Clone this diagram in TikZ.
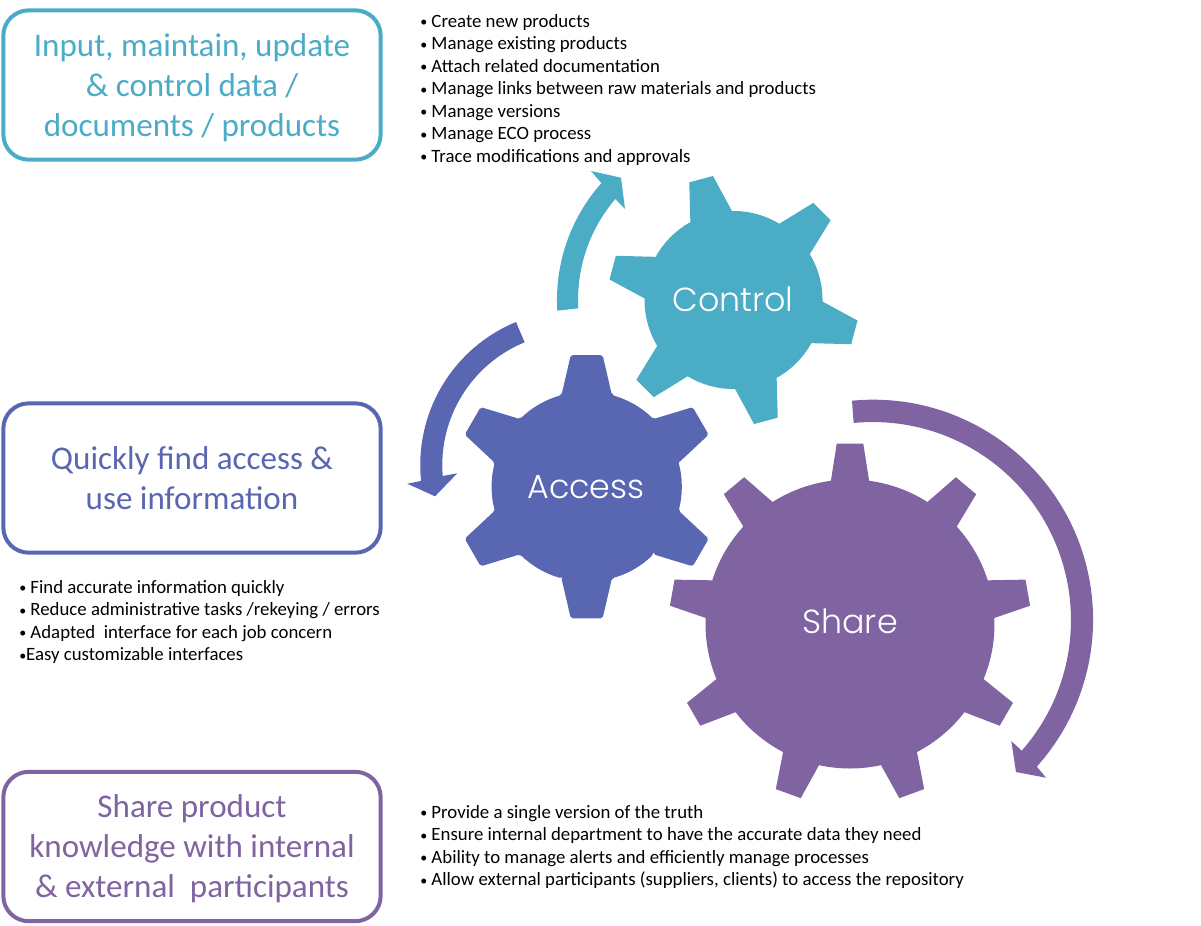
\documentclass[tikz,border=0pt]{standalone}
\usepackage{fontspec}
\usepackage{xcolor}
\setmainfont{Carlito}
\newfontfamily\gearfont{Poppins Light}
\definecolor{ctrlTeal}{HTML}{4BACC6}
\definecolor{accIndigo}{HTML}{5966B2}
\definecolor{shrPurple}{HTML}{8064A2}
\newcommand{\Dot}{\raisebox{0.6pt}{\fontsize{10.5}{10}\selectfont •}}

\begin{document}
\begin{tikzpicture}[x=0.75pt,y=0.75pt,
  goalBox/.style={draw,line width=3pt,rounded corners=19pt,fill=white,align=center,
    minimum width=283pt,minimum height=112pt,inner sep=0pt,text depth=0pt,
    font=\fontsize{24.8}{30}\selectfont},
  taskList/.style={anchor=north west,align=left,inner sep=0pt,text=black,
    font=\fontsize{14.1}{16.9}\selectfont},
  gearLabel/.style={text=white,inner sep=0pt,font=\gearfont\fontsize{25}{28}\selectfont}]

\useasboundingbox (0,-925) rectangle (1201,0);

% ============================================================
% Hubs of the three gears
% ============================================================

\coordinate (controlHub) at (733.5,-300);
\coordinate (accessHub) at (586.7,-486.7);
\coordinate (shareHub) at (850,-624);

% ============================================================
% Control gear
% ============================================================

\def\Body{89}      % body radius
\def\Tip{125.7}    % tooth radius
\def\AngBase{14}   % half tooth at the body
\def\AngTip{5.6}   % half tooth at the tip
\def\Pitch{60}

\begin{scope}[shift={(controlHub)}]
  \fill[ctrlTeal] ({105-\AngBase}:\Body)
    \foreach \a [evaluate=\a as \s using \a+\AngBase,
                 evaluate=\a as \e using \a+\Pitch-\AngBase] in {105,165,...,405} {
      -- ({\a-\AngBase}:\Body) -- ({\a-\AngTip}:\Tip) -- ({\a+\AngTip}:\Tip)
      -- ({\a+\AngBase}:\Body) arc[start angle=\s,end angle=\e,radius=\Body]
    } -- cycle;
\end{scope}

\node[gearLabel] (controlLabel) at (733,-299) {Control};

% ============================================================
% Access gear
% ============================================================

\def\Body{95}
\def\Tip{132.6}
\def\AngBase{15.4}
\def\AngTip{6.9}
\def\Pitch{60}

\begin{scope}[shift={(accessHub)}]
  \fill[accIndigo,rounded corners=1.5pt] ({90-\AngBase}:\Body)
    \foreach \a [evaluate=\a as \s using \a+\AngBase,
                 evaluate=\a as \e using \a+\Pitch-\AngBase] in {90,150,...,390} {
      -- ({\a-\AngBase}:\Body) -- ({\a-\AngTip}:\Tip) -- ({\a+\AngTip}:\Tip)
      -- ({\a+\AngBase}:\Body) arc[start angle=\s,end angle=\e,radius=\Body]
    } -- cycle;
\end{scope}

\node[gearLabel] (accessLabel) at (586,-487) {Access};

% ============================================================
% Share gear
% ============================================================

\def\Body{144.5}
\def\Tip{181}
\def\AngBase{7.6}
\def\AngTip{4.2}
\def\Pitch{40}

\begin{scope}[shift={(shareHub)}]
  \fill[shrPurple] ({90-\AngBase}:\Body)
    \foreach \a [evaluate=\a as \s using \a+\AngBase,
                 evaluate=\a as \e using \a+\Pitch-\AngBase] in {90,130,...,410} {
      -- ({\a-\AngBase}:\Body) -- ({\a-\AngTip}:\Tip) -- ({\a+\AngTip}:\Tip)
      -- ({\a+\AngBase}:\Body) arc[start angle=\s,end angle=\e,radius=\Body]
    } -- cycle;
\end{scope}

\node[gearLabel] (shareLabel) at (850,-621) {Share};

% ============================================================
% Curved arrows
% ============================================================

\fill[ctrlTeal] (557.3,-310.7) arc[start angle=183.5,end angle=138.4,radius=176]
  -- (591,-171) -- (621,-177.7) -- (625,-209) -- (615.3,-199)
  arc[start angle=139.4,end angle=183.2,radius=154.7] -- cycle;

\fill[accIndigo] (516,-322) arc[start angle=112.4,end angle=185.9,radius=154.7]
  -- (407.3,-483.7) -- (435,-496.3) -- (457.3,-473.3) -- (442.7,-476)
  arc[start angle=184.7,end angle=112.3,radius=132.8] -- cycle;

\fill[shrPurple] (852,-400.7) arc[start angle=95.5,end angle=-41.9,radius=220]
  -- (1046,-777.7) -- (1016,-772) -- (1011.3,-741) -- (1021.7,-750.7)
  arc[start angle=-41.3,end angle=95.6,radius=198] -- cycle;

% ============================================================
% Boxes on the left
% ============================================================

\node[goalBox,draw=ctrlTeal,text=ctrlTeal] (controlBox) at (192,-85)
  {Input, maintain, update\\\& control data /\\documents / products};
\node[goalBox,draw=accIndigo,text=accIndigo] (accessBox) at (192,-478)
  {Quickly find access \&\\use information};
\node[goalBox,draw=shrPurple,text=shrPurple] (shareBox) at (192,-846.5)
  {Share product\\knowledge with internal\\\& external\ \ participants};

% ============================================================
% Task lists
% ============================================================

\node[taskList] (controlList) at (420,-14) {%
  \Dot{} Create new products\\
  \Dot{} Manage existing products\\
  \Dot{} Attach related documentation\\
  \Dot{} Manage links between raw materials and products\\
  \Dot{} Manage versions\\
  \Dot{} Manage ECO process\\
  \Dot{} Trace modifications and approvals};

\node[taskList] (accessList) at (19,-580) {%
  \Dot{} Find accurate information quickly\\
  \Dot{} Reduce administrative tasks /rekeying / errors\\
  \Dot{} Adapted\ \ interface for each job concern\\
  \Dot{}Easy customizable interfaces};

\node[taskList] (shareList) at (420,-805) {%
  \Dot{} Provide a single version of the truth\\
  \Dot{} Ensure internal department to have the accurate data they need\\
  \Dot{} Ability to manage alerts and efficiently manage processes\\
  \Dot{} Allow external participants (suppliers, clients) to access the repository};

\end{tikzpicture}
\end{document}
